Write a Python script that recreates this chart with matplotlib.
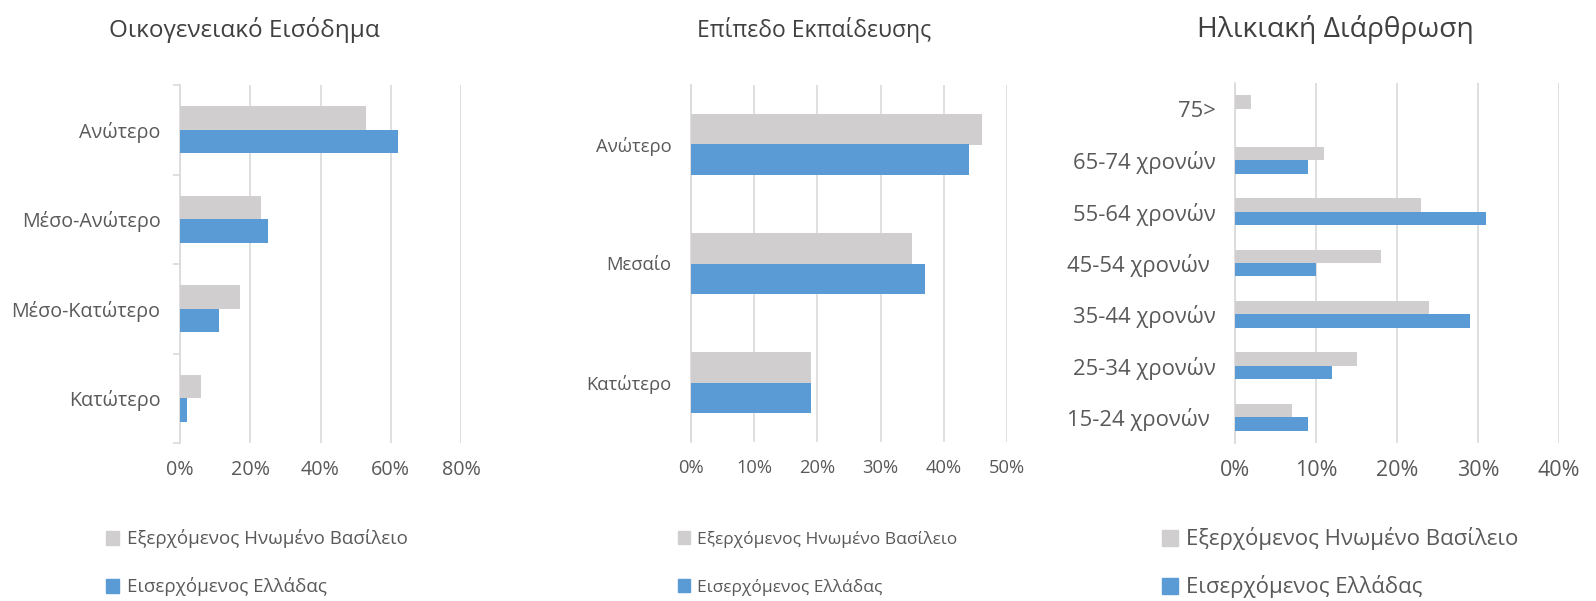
import numpy as np
import matplotlib
matplotlib.use('Agg')
import matplotlib.pyplot as plt
from matplotlib.ticker import PercentFormatter
from matplotlib.patches import Patch

plt.rcParams['font.family'] = ['Open Sans', 'DejaVu Sans']

# データ
income_cats = ['Κατώτερο', 'Μέσο-Κατώτερο', 'Μέσο-Ανώτερο', 'Ανώτερο']
income_uk = [6, 17, 23, 53]
income_gr = [2, 11, 25, 62]

edu_cats = ['Κατώτερο', 'Μεσαίο', 'Ανώτερο']
edu_uk = [19, 35, 46]
edu_gr = [19, 37, 44]

age_cats = ['15-24 χρονών ', '25-34 χρονών', '35-44 χρονών', '45-54 χρονών ',
            '55-64 χρονών', '65-74 χρονών', '75>']
age_uk = [7, 15, 24, 18, 23, 11, 2]
age_gr = [9, 12, 29, 10, 31, 9, 0]

titles = ['Οικογενειακό Εισόδημα', 'Επίπεδο Εκπαίδευσης', 'Ηλικιακή Διάρθρωση']
series_names = ['Εξερχόμενος Ηνωμένο Βασίλειο', 'Εισερχόμενος Ελλάδας']
x_max = [80, 50, 40]
x_step = [20, 10, 10]

C_UK = '#d0cece'
C_GR = '#5b9bd5'
TXT = '#595959'
GRID = '#d9d9d9'

W, H = 1596, 601
fig = plt.figure(figsize=(W / 100, H / 100), dpi=100)

# 各パネルの位置(ピクセル)とフォントサイズ
boxes = [(180, 461, 85, 443), (691, 1007, 85, 442), (1235, 1559, 83, 443)]
title_x = [244, 814, 1335]
legend_x = [106, 678, 1162]
legend_y = [539, 587]
title_fs = [17.5, 16.5, 20.3]
ylab_fs = [14.2, 13.3, 15.8]
xlab_fs = [14.2, 13.2, 15.5]
leg_fs = [13.5, 12.5, 16]

panels = [(income_cats, income_uk, income_gr),
          (edu_cats, edu_uk, edu_gr),
          (age_cats, age_uk, age_gr)]

bh = 0.26
for i, (cats, uk, gr) in enumerate(panels):
    x0, x1, yt, yb = boxes[i]
    ax = fig.add_axes([x0 / W, 1 - yb / H, (x1 - x0) / W, (yb - yt) / H])
    y = np.arange(len(cats))
    ax.barh(y + bh / 2, uk, height=bh, color=C_UK, zorder=3)
    ax.barh(y - bh / 2, gr, height=bh, color=C_GR, zorder=3)
    ax.set_ylim(-0.5, len(cats) - 0.5)
    ax.set_xlim(0, x_max[i])
    ax.set_xticks(np.arange(0, x_max[i] + 1, x_step[i]))
    ax.xaxis.set_major_formatter(PercentFormatter(decimals=0))
    ax.set_yticks(y)
    ax.set_yticklabels(cats)
    ax.grid(axis='x', color=GRID, linewidth=1.2, zorder=0)
    for s in ['top', 'right', 'bottom']:
        ax.spines[s].set_visible(False)
    ax.spines['left'].set_color(GRID)
    ax.spines['left'].set_linewidth(1.2)
    ax.tick_params(axis='x', length=0, pad=12, labelsize=xlab_fs[i], colors=TXT)
    ax.tick_params(axis='y', length=0, pad=14, labelsize=ylab_fs[i], colors=TXT)
    if i == 0:
        ax.set_yticks(np.arange(-0.5, len(cats), 1), minor=True)
        ax.tick_params(axis='y', which='minor', length=5, color=GRID, width=1.2)

    fig.text(title_x[i] / W, 1 - 30 / H, titles[i], ha='center', va='center',
             fontsize=title_fs[i], color='#404040')

    # 凡例は1行ずつ配置
    for name, col, ly in zip(series_names, [C_UK, C_GR], legend_y):
        fig.legend(handles=[Patch(color=col, label=name)], loc='center left',
                   bbox_to_anchor=(legend_x[i] / W, 1 - ly / H), frameon=False,
                   fontsize=leg_fs[i], labelcolor=TXT, handlelength=0.7,
                   handleheight=0.7, handletextpad=0.4,
                   borderaxespad=0, borderpad=0)

fig.savefig('out.png', dpi=100, facecolor='white')
